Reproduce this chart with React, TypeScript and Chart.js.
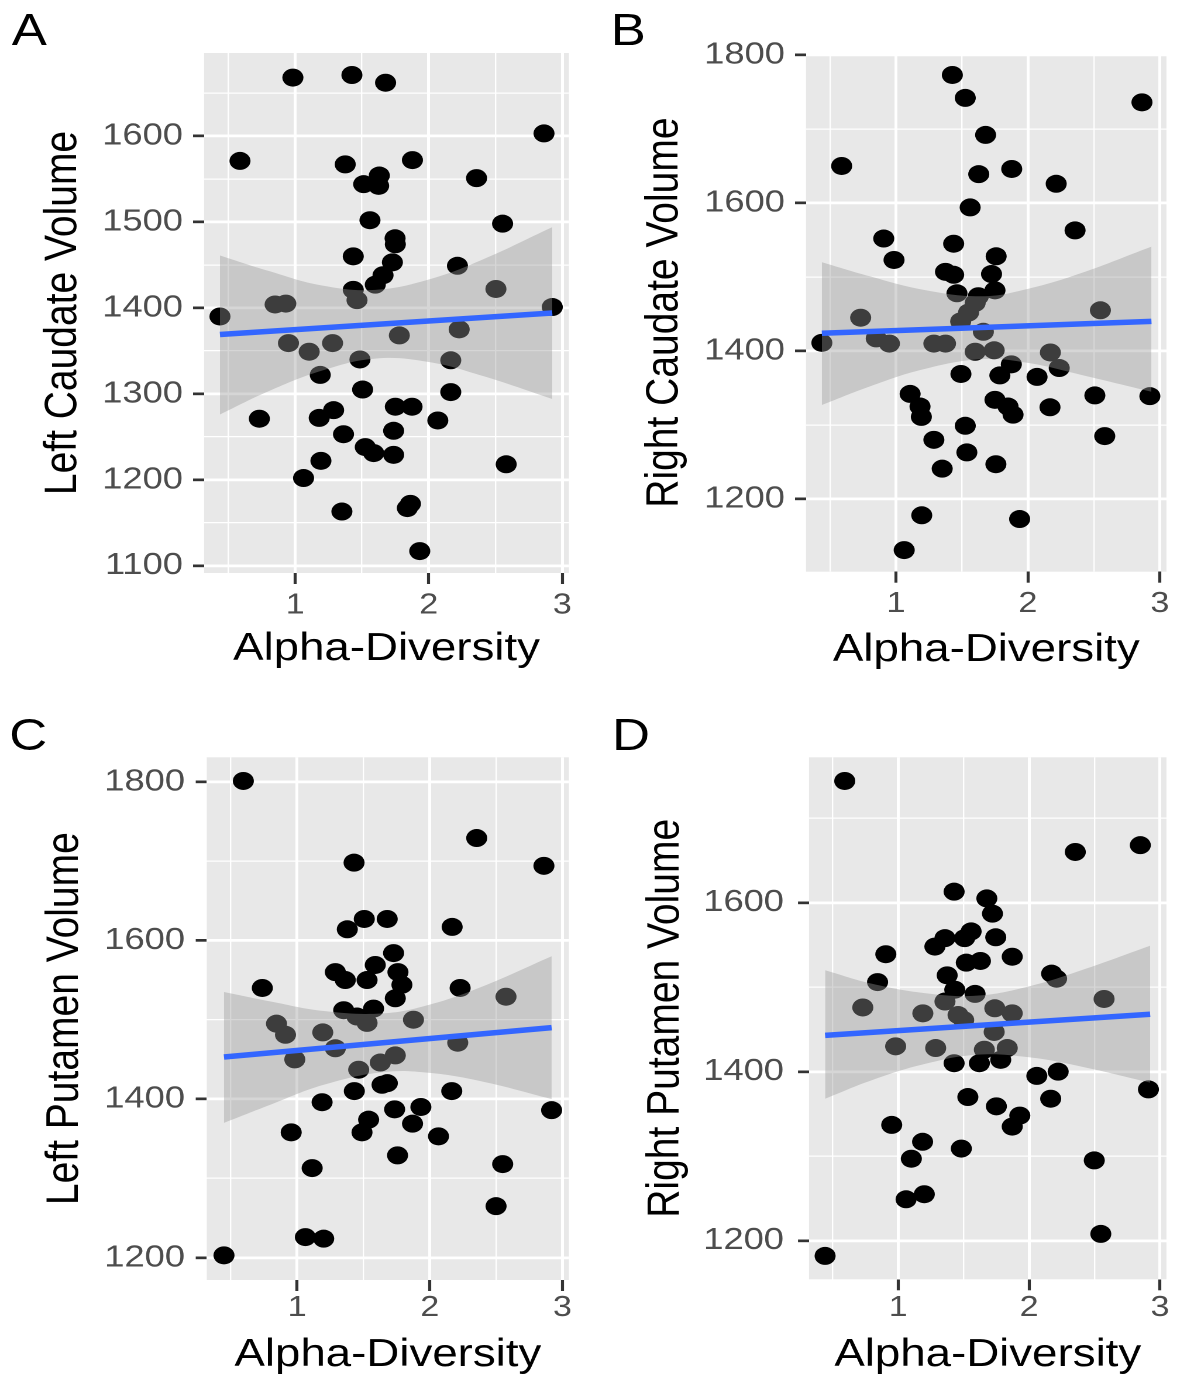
import React, { useEffect, useRef } from 'react';
import { Chart, registerables } from 'chart.js';

Chart.register(...registerables);

// The reference image is stretched horizontally; everything is laid out in
// unstretched units and the whole figure is scaled by STRETCH on the x axis.
const STRETCH = 1.17;
const FONT = "'Liberation Sans', Arial, Helvetica, sans-serif";

// ---- shared x axis ----
const X_MIN = 0.318;
const X_MAX = 3.05;
const X_TICKS = [0.5, 1, 1.5, 2, 2.5, 3];
const X_LABELS = [1, 2, 3];
const X_TITLE = 'Alpha-Diversity';

// ---- Panel A: Left Caudate Volume ----
const leftCaudateAlpha = [0.983, 1.425, 1.677, 2.863, 0.587, 1.375, 1.878, 1.63, 1.513, 1.625, 2.358, 1.56, 2.553, 1.748, 1.75, 1.435, 1.728, 1.658, 1.6, 2.215, 1.435, 1.463, 0.85, 0.93, 2.503, 2.925, 0.437, 0.95, 1.105, 1.28, 1.78, 2.228, 1.485, 2.165, 1.188, 1.505, 2.165, 0.732, 1.18, 1.288, 1.75, 1.875, 2.068, 1.362, 1.737, 1.525, 1.588, 1.737, 2.58, 1.193, 1.063, 1.35, 1.863, 1.84, 1.933];
const leftCaudateVolume = [1668, 1671, 1662, 1603, 1571, 1567, 1572, 1554, 1544, 1542, 1551, 1502, 1498, 1481, 1474, 1460, 1453, 1438, 1427, 1449, 1421, 1409, 1404, 1405, 1422, 1401, 1390, 1359, 1349, 1359, 1368, 1375, 1340, 1339, 1322, 1305, 1302, 1271, 1272, 1281, 1285, 1285, 1269, 1253, 1257, 1238, 1231, 1229, 1218, 1222, 1202, 1163, 1172, 1167, 1117];
const leftCaudateFitX = [0.437, 2.925];
const leftCaudateFitY = [1369, 1394];
const leftCaudateBandX = [0.437, 0.8, 1.2, 1.6, 2.0, 2.4, 2.925];
const leftCaudateBandLow = [1276, 1303, 1327, 1341, 1337, 1321, 1294];
const leftCaudateBandHigh = [1461, 1443, 1426, 1421, 1433, 1456, 1494];
const leftCaudateTicks = [1100, 1150, 1200, 1250, 1300, 1350, 1400, 1450, 1500, 1550, 1600, 1650];
const leftCaudateLabels = [1100, 1200, 1300, 1400, 1500, 1600];

// ---- Panel B: Right Caudate Volume ----
const rightCaudateAlpha = [1.427, 1.525, 2.864, 1.679, 0.588, 1.627, 1.877, 2.214, 1.562, 2.357, 0.907, 0.985, 1.437, 1.759, 1.375, 1.437, 1.724, 1.462, 1.624, 1.75, 0.732, 2.549, 1.49, 1.55, 1.6, 0.438, 0.85, 0.95, 1.287, 1.375, 1.662, 1.6, 1.744, 2.17, 2.237, 1.874, 1.787, 1.492, 2.069, 1.107, 1.182, 1.192, 1.75, 1.849, 1.887, 2.167, 2.507, 2.924, 1.525, 1.287, 1.537, 2.582, 1.35, 1.757, 1.195, 1.937, 1.062];
const rightCaudateVolume = [1773, 1742, 1736, 1692, 1650, 1639, 1646, 1626, 1594, 1563, 1552, 1523, 1545, 1528, 1507, 1503, 1504, 1478, 1474, 1482, 1445, 1455, 1440, 1452, 1465, 1411, 1417, 1410, 1410, 1410, 1426, 1399, 1401, 1398, 1377, 1382, 1367, 1369, 1365, 1342, 1325, 1311, 1334, 1325, 1314, 1324, 1340, 1339, 1299, 1280, 1263, 1285, 1241, 1247, 1178, 1173, 1131];
const rightCaudateFitX = [0.438, 2.936];
const rightCaudateFitY = [1424, 1440];
const rightCaudateBandX = [0.438, 0.8, 1.2, 1.65, 2.0, 2.4, 2.936];
const rightCaudateBandLow = [1327, 1352, 1375, 1389, 1384, 1368, 1345];
const rightCaudateBandHigh = [1520, 1501, 1483, 1474, 1484, 1505, 1541];
const rightCaudateTicks = [1200, 1300, 1400, 1500, 1600, 1700, 1800];
const rightCaudateLabels = [1200, 1400, 1600, 1800];

// ---- Panel C: Left Putamen Volume ----
const leftPutamenAlpha = [0.594, 2.354, 1.429, 2.861, 1.378, 1.506, 1.679, 2.169, 1.727, 1.288, 1.363, 1.589, 1.527, 1.76, 1.79, 1.74, 0.737, 2.229, 1.576, 2.575, 1.351, 1.451, 1.527, 1.877, 0.844, 0.912, 1.193, 1.288, 0.982, 2.211, 1.464, 1.627, 1.74, 1.431, 1.64, 1.68, 2.166, 1.188, 1.735, 1.933, 1.87, 1.539, 1.489, 2.066, 2.919, 0.955, 1.757, 1.113, 2.55, 2.5, 1.062, 1.2, 0.448];
const leftPutamenVolume = [1801, 1729, 1698, 1694, 1614, 1627, 1627, 1617, 1584, 1560, 1550, 1569, 1550, 1560, 1544, 1527, 1540, 1540, 1514, 1529, 1512, 1504, 1496, 1500, 1495, 1481, 1484, 1464, 1450, 1471, 1437, 1446, 1455, 1410, 1418, 1420, 1410, 1396, 1387, 1390, 1369, 1374, 1358, 1353, 1386, 1358, 1329, 1313, 1318, 1265, 1226, 1224, 1203];
const leftPutamenFitX = [0.448, 2.919];
const leftPutamenFitY = [1453, 1490];
const leftPutamenBandX = [0.448, 0.8, 1.2, 1.65, 2.0, 2.4, 2.919];
const leftPutamenBandLow = [1370, 1393, 1418, 1434, 1433, 1422, 1400];
const leftPutamenBandHigh = [1535, 1523, 1511, 1508, 1519, 1542, 1580];
const leftPutamenTicks = [1200, 1300, 1400, 1500, 1600, 1700, 1800];
const leftPutamenLabels = [1200, 1400, 1600, 1800];

// ---- Panel D: Right Putamen Volume ----
const rightPutamenAlpha = [0.591, 2.353, 2.85, 1.427, 1.677, 1.72, 1.557, 1.507, 1.357, 1.28, 1.745, 0.905, 1.871, 1.52, 1.628, 1.374, 2.172, 2.21, 0.842, 1.432, 1.587, 1.357, 1.738, 2.573, 0.729, 1.188, 1.871, 1.457, 1.5, 1.733, 0.98, 1.286, 1.658, 1.833, 1.427, 1.62, 1.783, 2.059, 2.222, 2.912, 1.532, 1.75, 2.165, 1.929, 1.871, 0.95, 1.186, 1.1, 1.482, 2.498, 1.06, 1.199, 2.548, 0.441];
const rightPutamenVolume = [1744, 1660, 1668, 1613, 1605, 1587, 1566, 1558, 1558, 1548, 1559, 1539, 1536, 1529, 1531, 1514, 1516, 1510, 1506, 1497, 1492, 1483, 1475, 1486, 1476, 1469, 1469, 1467, 1461, 1447, 1430, 1428, 1426, 1428, 1410, 1410, 1414, 1395, 1400, 1379, 1370, 1359, 1368, 1348, 1335, 1337, 1317, 1297, 1309, 1295, 1249, 1255, 1208, 1182];
const rightPutamenFitX = [0.441, 2.925];
const rightPutamenFitY = [1443, 1468];
const rightPutamenBandX = [0.441, 0.8, 1.2, 1.6, 2.0, 2.4, 2.925];
const rightPutamenBandLow = [1368, 1390, 1409, 1420, 1417, 1406, 1387];
const rightPutamenBandHigh = [1520, 1504, 1493, 1490, 1501, 1520, 1549];
const rightPutamenTicks = [1200, 1300, 1400, 1500, 1600, 1700];
const rightPutamenLabels = [1200, 1400, 1600];

type Box = { left: number; top: number; right: number; bottom: number };
type PanelCfg = {
  letter: string;
  yTitle: string;
  xs: number[];
  ys: number[];
  fitX: number[];
  fitY: number[];
  bandX: number[];
  bandLow: number[];
  bandHigh: number[];
  yTicks: number[];
  yLabels: number[];
  yMin: number;
  yMax: number;
  left: number;
  top: number;
  width: number;
  height: number;
  area: Box;
  yTickPad: number;
  yTitlePad: number;
  xTickPad: number;
  xTitlePad: number;
  letterLeft: number;
  letterTop: number;
};

const panels: PanelCfg[] = [
  {
    letter: 'A', yTitle: 'Left Caudate Volume',
    xs: leftCaudateAlpha, ys: leftCaudateVolume, fitX: leftCaudateFitX, fitY: leftCaudateFitY,
    bandX: leftCaudateBandX, bandLow: leftCaudateBandLow, bandHigh: leftCaudateBandHigh,
    yTicks: leftCaudateTicks, yLabels: leftCaudateLabels, yMin: 1091.5, yMax: 1696.6,
    left: 0, top: 0, width: 500, height: 690,
    area: { left: 174.4, top: 53, right: 486.3, bottom: 573 },
    yTickPad: 8.6, yTitlePad: 34.5, xTickPad: 7, xTitlePad: 21.5,
    letterLeft: 10, letterTop: 7,
  },
  {
    letter: 'B', yTitle: 'Right Caudate Volume',
    xs: rightCaudateAlpha, ys: rightCaudateVolume, fitX: rightCaudateFitX, fitY: rightCaudateFitY,
    bandX: rightCaudateBandX, bandLow: rightCaudateBandLow, bandHigh: rightCaudateBandHigh,
    yTicks: rightCaudateTicks, yLabels: rightCaudateLabels, yMin: 1101.8, yMax: 1802,
    left: 506, top: 0, width: 500, height: 690,
    area: { left: 182.9, top: 53.5, right: 494, bottom: 571.7 },
    yTickPad: 8.6, yTitlePad: 42.9, xTickPad: 7, xTitlePad: 20.5,
    letterLeft: 522, letterTop: 7,
  },
  {
    letter: 'C', yTitle: 'Left Putamen Volume',
    xs: leftPutamenAlpha, ys: leftPutamenVolume, fitX: leftPutamenFitX, fitY: leftPutamenFitY,
    bandX: leftPutamenBandX, bandLow: leftPutamenBandLow, bandHigh: leftPutamenBandHigh,
    yTicks: leftPutamenTicks, yLabels: leftPutamenLabels, yMin: 1171.9, yMax: 1830.8,
    left: 0, top: 700, width: 500, height: 676,
    area: { left: 176.7, top: 57.3, right: 486.3, bottom: 580 },
    yTickPad: 9.2, yTitlePad: 36.1, xTickPad: 2.5, xTitlePad: 1.5,
    letterLeft: 8, letterTop: 712,
  },
  {
    letter: 'D', yTitle: 'Right Putamen Volume',
    xs: rightPutamenAlpha, ys: rightPutamenVolume, fitX: rightPutamenFitX, fitY: rightPutamenFitY,
    bandX: rightPutamenBandX, bandLow: rightPutamenBandLow, bandHigh: rightPutamenBandHigh,
    yTicks: rightPutamenTicks, yLabels: rightPutamenLabels, yMin: 1154.3, yMax: 1772,
    left: 506, top: 700, width: 500, height: 676,
    area: { left: 185.45, top: 57.3, right: 494, bottom: 579.3 },
    yTickPad: 12, yTitlePad: 43.7, xTickPad: 3, xTitlePad: 1.5,
    letterLeft: 523, letterTop: 712,
  },
];

const panelBackground = {
  id: 'panelBackground',
  beforeDraw(chart: any) {
    const { ctx, chartArea: a } = chart;
    ctx.save();
    ctx.fillStyle = '#e8e8e8';
    ctx.fillRect(a.left, a.top, a.right - a.left, a.bottom - a.top);
    ctx.restore();
  },
};

function Panel({ cfg }: { cfg: PanelCfg }) {
  const ref = useRef<HTMLCanvasElement | null>(null);

  useEffect(() => {
    const canvas = ref.current;
    if (!canvas) return;
    const c = cfg;
    const majorX = (v: any) => X_LABELS.includes(v);
    const majorY = (v: any) => c.yLabels.includes(v);

    const chart = new Chart(canvas, {
      type: 'scatter',
      data: {
        datasets: [
          {
            type: 'scatter',
            data: c.xs.map((x, i) => ({ x, y: c.ys[i] })),
            backgroundColor: '#000000',
            borderColor: '#000000',
            borderWidth: 0,
            pointRadius: 9,
            pointHoverRadius: 9,
            order: 3,
          },
          {
            type: 'line',
            data: c.bandX.map((x, i) => ({ x, y: c.bandHigh[i] })),
            borderColor: 'rgba(0,0,0,0)',
            borderWidth: 0,
            pointRadius: 0,
            tension: 0.4,
            fill: '+1',
            backgroundColor: 'rgba(153,153,153,0.4)',
            order: 2,
          },
          {
            type: 'line',
            data: c.bandX.map((x, i) => ({ x, y: c.bandLow[i] })),
            borderColor: 'rgba(0,0,0,0)',
            borderWidth: 0,
            pointRadius: 0,
            tension: 0.4,
            fill: false,
            order: 2,
          },
          {
            type: 'line',
            data: c.fitX.map((x, i) => ({ x, y: c.fitY[i] })),
            borderColor: '#3366FF',
            borderWidth: 5.5,
            pointRadius: 0,
            fill: false,
            order: 1,
          },
        ],
      } as any,
      options: {
        responsive: false,
        animation: false,
        devicePixelRatio: 2,
        layout: {
          padding: { left: 0, top: c.area.top, right: c.width - c.area.right, bottom: 0 },
        },
        plugins: {
          legend: { display: false },
          tooltip: { enabled: false },
        },
        scales: {
          x: {
            type: 'linear',
            min: X_MIN,
            max: X_MAX,
            afterBuildTicks: (s: any) => {
              s.ticks = X_TICKS.map((v) => ({ value: v }));
            },
            afterFit: (s: any) => {
              s.height = c.height - c.area.bottom;
              s.paddingLeft = 0;
              s.paddingRight = 0;
            },
            ticks: {
              autoSkip: false,
              maxRotation: 0,
              minRotation: 0,
              padding: c.xTickPad,
              color: '#4d4d4d',
              font: { family: FONT, size: 29, lineHeight: 1 },
              callback: (v: any) => (X_LABELS.includes(v) ? String(v) : ''),
            },
            grid: {
              color: '#ffffff',
              lineWidth: (ctx: any) => (majorX(ctx.tick?.value) ? 2.5 : 1.2),
              drawTicks: true,
              tickLength: 11,
              tickWidth: 2.6,
              tickColor: (ctx: any) => (majorX(ctx.tick?.value) ? '#333333' : 'rgba(0,0,0,0)'),
            },
            border: { display: false },
            title: {
              display: true,
              text: X_TITLE,
              color: '#000000',
              font: { family: FONT, size: 39, lineHeight: 1 },
              padding: { top: 0, bottom: c.xTitlePad },
            },
          },
          y: {
            type: 'linear',
            min: c.yMin,
            max: c.yMax,
            afterBuildTicks: (s: any) => {
              s.ticks = c.yTicks.map((v) => ({ value: v }));
            },
            afterFit: (s: any) => {
              s.width = c.area.left;
              s.paddingTop = 0;
              s.paddingBottom = 0;
            },
            ticks: {
              autoSkip: false,
              padding: c.yTickPad,
              color: '#4d4d4d',
              font: { family: FONT, size: 31, lineHeight: 1 },
              callback: (v: any) => (c.yLabels.includes(v) ? String(v) : ''),
            },
            grid: {
              color: '#ffffff',
              lineWidth: (ctx: any) => (majorY(ctx.tick?.value) ? 2.7 : 1.3),
              drawTicks: true,
              tickLength: 9.4,
              tickWidth: 2.7,
              tickColor: (ctx: any) => (majorY(ctx.tick?.value) ? '#333333' : 'rgba(0,0,0,0)'),
            },
            border: { display: false },
            title: {
              display: true,
              text: c.yTitle,
              color: '#000000',
              font: { family: FONT, size: 39, lineHeight: 1 },
              padding: { top: c.yTitlePad, bottom: 0 },
            },
          },
        },
      } as any,
      plugins: [panelBackground],
    });
    return () => chart.destroy();
  }, [cfg]);

  return (
    <canvas
      ref={ref}
      width={cfg.width}
      height={cfg.height}
      style={{ position: 'absolute', left: cfg.left, top: cfg.top }}
    />
  );
}

export default function App() {
  return (
    <div
      style={{
        position: 'absolute',
        left: 0,
        top: 0,
        width: 1006,
        height: 1376,
        overflow: 'hidden',
        background: '#ffffff',
        transform: `scaleX(${STRETCH})`,
        transformOrigin: '0 0',
      }}
    >
      {panels.map((p) => (
        <React.Fragment key={p.letter}>
          <Panel cfg={p} />
          <div
            style={{
              position: 'absolute',
              left: p.letterLeft,
              top: p.letterTop,
              fontFamily: FONT,
              fontSize: 45,
              lineHeight: '45px',
              color: '#000000',
            }}
          >
            {p.letter}
          </div>
        </React.Fragment>
      ))}
    </div>
  );
}
